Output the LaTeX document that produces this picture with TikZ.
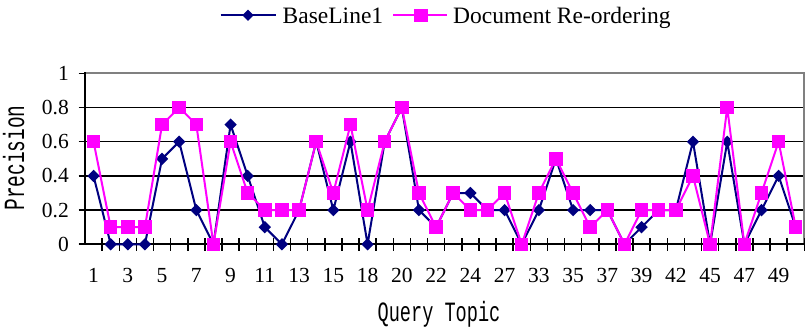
\documentclass[tikz,border=0pt]{standalone}
\usepackage{fontspec}
\usepackage{graphicx}
\setmainfont{Liberation Serif}
\newfontfamily\titlefont{Liberation Mono}
\usetikzlibrary{shapes.geometric}
\definecolor{navyline}{HTML}{000080}
\definecolor{magline}{HTML}{FF00FF}
\definecolor{framegray}{HTML}{808080}
\begin{document}
\begin{tikzpicture}[x=1pt,y=-1pt,
  gridline/.style={black,line width=1.5pt},
  axisline/.style={black,line width=2pt},
  frameline/.style={framegray,line width=2pt},
  tickmark/.style={black,line width=1.5pt},
  baseseries/.style={navyline,line width=2pt,line join=round},
  reorderseries/.style={magline,line width=2pt,line join=round},
  diamondmark/.style={diamond,aspect=1,minimum size=12.5pt,inner sep=0pt,fill=navyline},
  squaremark/.style={rectangle,minimum size=13.5pt,inner sep=0pt,fill=magline},
  ticklabel/.style={inner sep=0pt,font=\fontsize{21.5}{24}\selectfont},
  legendtext/.style={inner sep=0pt,anchor=base west,font=\fontsize{23.5}{27}\selectfont},
]
\useasboundingbox (0,0) rectangle (806,329);
\def\xl{85}\def\xr{804.3}\def\cw{17.126}\def\yz{244.3}\def\ys{171}

% horizontal grid
\foreach \v in {0.2,0.4,0.6,0.8}
  \draw[gridline] (\xl,{\yz-\v*\ys}) -- (\xr,{\yz-\v*\ys});
% plot frame (top and right)
\draw[frameline] (\xl,{\yz-\ys}) -- (\xr,{\yz-\ys}) -- (\xr,\yz);
% axes
\draw[axisline] (\xl,{\yz-\ys-1}) -- (\xl,\yz);
\draw[axisline] (78.5,\yz) -- (\xr,\yz);
% value axis ticks and labels
\foreach \v/\t in {0/0,0.2/0.2,0.4/0.4,0.6/0.6,0.8/0.8,1/1}{
  \draw[tickmark] (78.5,{\yz-\v*\ys}) -- (\xl,{\yz-\v*\ys});
  \node[ticklabel,anchor=east] (yl\t) at (69,{\yz-\v*\ys}) {\t};
}
% category ticks
\foreach \k in {1,...,42}
  \draw[tickmark] ({\xl+\k*\cw},238) -- ({\xl+\k*\cw},250.5);
% category labels
\foreach \t [count=\j] in {1,3,5,7,9,11,13,15,18,20,22,24,27,33,35,37,39,42,45,47,49}
  \node[ticklabel,anchor=base] (xl\j) at ({\xl+(2*\j-1.5)*\cw},282.7) {\t};

% data points
\foreach \v [count=\i] in {0.4,0,0,0,0.5,0.6,0.2,0,0.7,0.4,0.1,0,0.2,0.6,0.2,0.6,0,0.6,0.8,0.2,0.1,0.3,0.3,0.2,0.2,0,0.2,0.5,0.2,0.2,0.2,0,0.1,0.2,0.2,0.6,0,0.6,0,0.2,0.4,0.1}
  \coordinate (b\i) at ({\xl+(\i-0.5)*\cw},{\yz-\v*\ys});
\foreach \v [count=\i] in {0.6,0.1,0.1,0.1,0.7,0.8,0.7,0,0.6,0.3,0.2,0.2,0.2,0.6,0.3,0.7,0.2,0.6,0.8,0.3,0.1,0.3,0.2,0.2,0.3,0,0.3,0.5,0.3,0.1,0.2,0,0.2,0.2,0.2,0.4,0,0.8,0,0.3,0.6,0.1}
  \coordinate (r\i) at ({\xl+(\i-0.5)*\cw},{\yz-\v*\ys});

% BaseLine1 series
\draw[baseseries] (b1) \foreach \i in {2,...,42}{ -- (b\i)};
\foreach \i in {1,...,42} \node[diamondmark] (bm\i) at (b\i) {};
% Document Re-ordering series
\draw[reorderseries] (r1) \foreach \i in {2,...,42}{ -- (r\i)};
\foreach \i in {1,...,42} \node[squaremark] (rm\i) at (r\i) {};

% legend
\coordinate (lb1) at (220.7,15.3); \coordinate (lb2) at (276,15.3);
\draw[baseseries] (lb1) -- (lb2);
\node[diamondmark,minimum size=11.5pt] (lbm) at (248,15.3) {};
\node[legendtext] (lbt) at (282.5,24) {BaseLine1};
\coordinate (lr1) at (393,15.3); \coordinate (lr2) at (447,15.3);
\draw[reorderseries] (lr1) -- (lr2);
\node[squaremark] (lrm) at (421,15.3) {};
\node[legendtext] (lrt) at (453,24) {Document Re-ordering};

% axis titles
\node[inner sep=0pt,anchor=base] (xtitle) at (439,321)
  {\scalebox{1}[1.5]{\titlefont\fontsize{18.6}{20}\selectfont Query Topic}};
\node[inner sep=0pt,anchor=base,rotate=90] (ytitle) at (24,158)
  {\scalebox{1}[1.5]{\titlefont\fontsize{19.5}{20}\selectfont Precision}};
\end{tikzpicture}
\end{document}
